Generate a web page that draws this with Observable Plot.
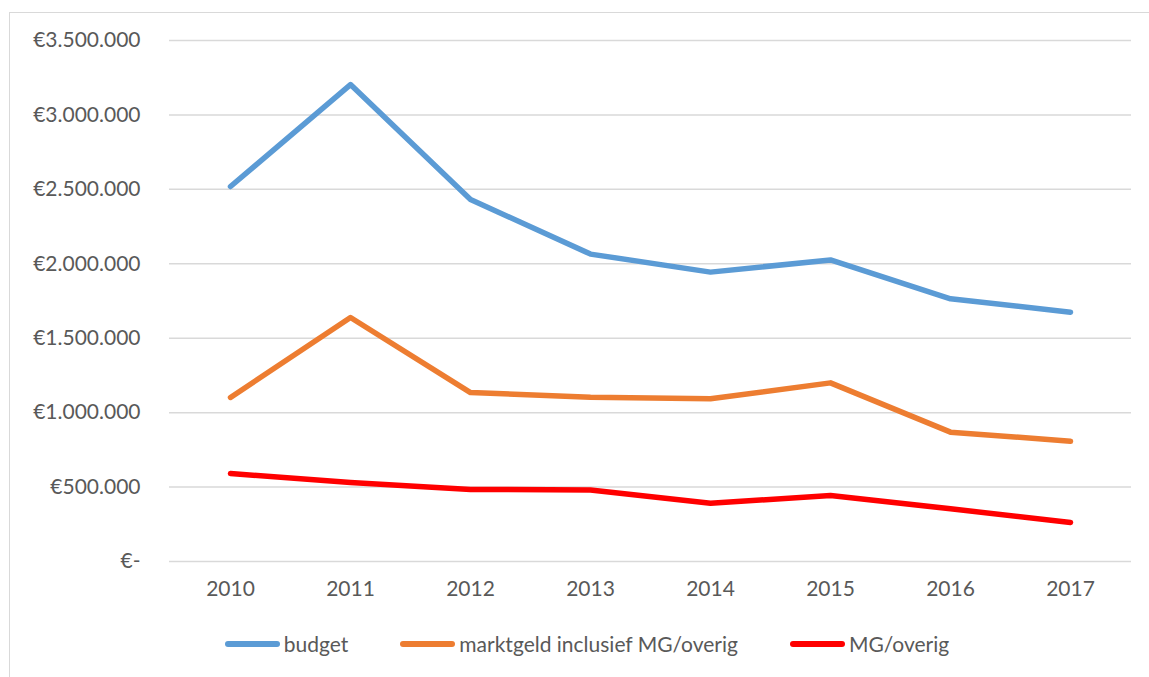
<!DOCTYPE html>
<html>
<head>
<meta charset="utf-8">
<script src="https://cdn.jsdelivr.net/npm/d3@7"></script>
<script src="https://cdn.jsdelivr.net/npm/@observablehq/plot@0.6"></script>
<style>
  html, body { margin: 0; padding: 0; background: #fff; }
  body { width: 1149px; height: 677px; position: relative; overflow: hidden; font-family: Lato, "Noto Sans", sans-serif; }
  #frame { position: absolute; left: 9px; top: 12px; width: 1160px; height: 700px; border: 1px solid #d9d9d9; box-sizing: border-box; }
  #chart { position: absolute; left: 0; top: 0; }
  #legend { position: absolute; left: 0; width: 1174px; top: 631px; display: flex; justify-content: center; gap: 52px; font-size: 21px; color: #595959; }
  .item { display: flex; align-items: center; gap: 4px; }
  .sw { width: 55px; height: 6px; border-radius: 3px; }
</style>
</head>
<body>
<div id="frame"></div>
<div id="chart"></div>
<div id="legend"></div>
<script>
const years = ["2010","2011","2012","2013","2014","2015","2016","2017"];
const seriesNames = ["budget", "marktgeld inclusief MG/overig", "MG/overig"];
const budget =    [2519000, 3204000, 2432000, 2065000, 1944000, 2026000, 1765000, 1675000];
const marktgeld = [1102000, 1639000, 1135000, 1104000, 1093000, 1200000, 869000, 808000];
const mgOverig =  [591000, 531000, 484000, 481000, 392000, 443000, 354000, 262000];
const colors = ["#5B9BD5", "#ED7D31", "#FF0000"];
const yTicks = [0, 500000, 1000000, 1500000, 2000000, 2500000, 3000000, 3500000];

const allSeries = [budget, marktgeld, mgOverig];
const data = [];
seriesNames.forEach((s, i) => years.forEach((y, j) => data.push({series: s, year: y, value: allSeries[i][j]})));

const fmt = v => v === 0 ? "€-" : "€" + d3.format(",")(v).replace(/,/g, ".");

const plot = Plot.plot({
  width: 1149,
  height: 620,
  marginLeft: 169,
  marginRight: 18,
  marginTop: 40,
  marginBottom: 59,
  style: { fontFamily: "Lato, 'Noto Sans', sans-serif", fontSize: "21px", color: "#595959", background: "transparent" },
  x: { type: "point", domain: years, padding: 0.5, label: null, tickSize: 0, tickPadding: 20 },
  y: { domain: [0, 3500000], ticks: yTicks, tickFormat: fmt, label: null, tickSize: 0, tickPadding: 29 },
  color: { domain: seriesNames, range: colors },
  marks: [
    Plot.gridY(yTicks, { stroke: "#d9d9d9", strokeOpacity: 1, strokeWidth: 1.5 }),
    Plot.axisX({ tickSize: 0, tickPadding: 20, fill: "#595959" }),
    Plot.axisY({ ticks: yTicks, tickFormat: fmt, tickSize: 0, tickPadding: 29, fill: "#595959" }),
    Plot.line(data, { x: "year", y: "value", z: "series", stroke: "series", strokeWidth: 5.5, strokeLinecap: "round", strokeLinejoin: "round" })
  ]
});
document.getElementById("chart").appendChild(plot);

const legend = document.getElementById("legend");
seriesNames.forEach((s, i) => {
  const it = document.createElement("div");
  it.className = "item";
  const sw = document.createElement("div");
  sw.className = "sw";
  sw.style.background = colors[i];
  const t = document.createElement("span");
  t.textContent = s;
  it.appendChild(sw); it.appendChild(t);
  legend.appendChild(it);
});
</script>
</body>
</html>
